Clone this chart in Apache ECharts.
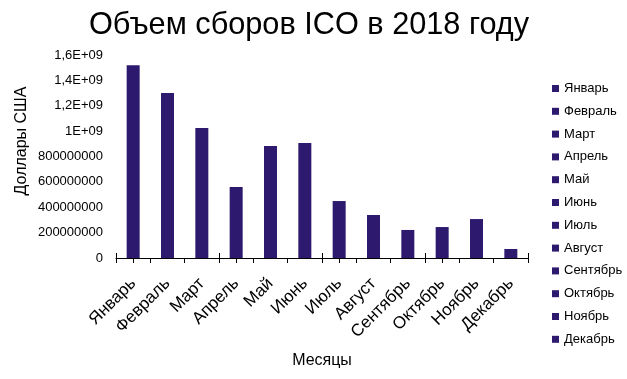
<!DOCTYPE html>
<html>
<head>
<meta charset="utf-8">
<script src="https://cdn.jsdelivr.net/npm/echarts@6/dist/echarts.min.js"></script>
<style>
html,body{margin:0;padding:0;background:#fff;}
#chart{width:627px;height:379px;}
</style>
</head>
<body>
<div id="chart"></div>
<script>
const titleText = 'Объем сборов ICO в 2018 году';
const months = ['Январь','Февраль','Март','Апрель','Май','Июнь','Июль','Август','Сентябрь','Октябрь','Ноябрь','Декабрь'];
const volumes = [1520000000, 1300000000, 1025000000, 560000000, 883000000, 906000000, 449000000, 339000000, 221000000, 244000000, 307000000, 71000000];
const yTickLabels = ['0','200000000','400000000','600000000','800000000','1E+09','1,2E+09','1,4E+09','1,6E+09'];
const yAxisTitle = 'Доллары США';
const xAxisTitle = 'Месяцы';

const FONT = 'Liberation Sans, Arial, sans-serif';
const BAR = '#2d1a6e';

const chart = echarts.init(document.getElementById('chart'), null, {renderer: 'canvas'});

const series = months.map((m, i) => ({
  name: m,
  type: 'bar',
  xAxisIndex: 0,
  yAxisIndex: 0,
  barWidth: 13,
  barGap: '-100%',
  itemStyle: {color: BAR},
  data: volumes.map((v, j) => (j === i ? v : null)),
  animation: false
}));

function catAxis(extra) {
  return Object.assign({
    type: 'category',
    data: months,
    position: 'bottom',
    boundaryGap: true,
    axisLine: {show: false},
    axisLabel: {show: false},
    splitLine: {show: false}
  }, extra);
}

const option = {
  animation: false,
  title: {
    text: titleText,
    left: 84,
    top: 5,
    textStyle: {fontFamily: FONT, fontSize: 30.7, fontWeight: 'normal', color: '#000'}
  },
  legend: {
    orient: 'vertical',
    left: 547,
    top: 76,
    itemWidth: 7,
    itemHeight: 7,
    itemGap: 7.8,
    icon: 'rect',
    textStyle: {fontFamily: FONT, fontSize: 13, color: '#000', lineHeight: 15},
    data: months
  },
  grid: {left: 116, right: 99, top: 55, bottom: 121, containLabel: false},
  xAxis: [
    catAxis({
      axisLine: {show: true, lineStyle: {color: '#000', width: 1}},
      axisTick: {show: true, alignWithLabel: false, inside: false, length: 5, lineStyle: {color: '#000'}},
      axisLabel: {show: true, rotate: 45, margin: 23, fontFamily: FONT, fontSize: 17, color: '#000', interval: 0},
      name: xAxisTitle,
      nameLocation: 'middle',
      nameGap: 95,
      nameTextStyle: {fontFamily: FONT, fontSize: 16, color: '#000'}
    }),
    catAxis({axisTick: {show: true, alignWithLabel: false, inside: true, length: 5, lineStyle: {color: '#000'}}}),
    catAxis({axisTick: {show: true, alignWithLabel: true, inside: false, length: 5, lineStyle: {color: '#000'}}}),
    catAxis({axisTick: {show: true, alignWithLabel: true, inside: true, length: 5, lineStyle: {color: '#000'}}})
  ],
  yAxis: {
    type: 'value',
    min: 0,
    max: 1600000000,
    interval: 200000000,
    axisLine: {show: false},
    axisTick: {show: false},
    splitLine: {show: false},
    axisLabel: {
      margin: 13,
      fontFamily: FONT,
      fontSize: 13,
      color: '#000',
      formatter: (v, i) => yTickLabels[i]
    }
  },
  graphic: [{
    type: 'text',
    x: 22,
    y: 141,
    rotation: Math.PI / 2,
    style: {
      text: yAxisTitle,
      fontFamily: FONT,
      fontSize: 16,
      fill: '#000',
      align: 'center',
      verticalAlign: 'middle'
    }
  }],
  series: series
};

chart.setOption(option);
</script>
</body>
</html>
